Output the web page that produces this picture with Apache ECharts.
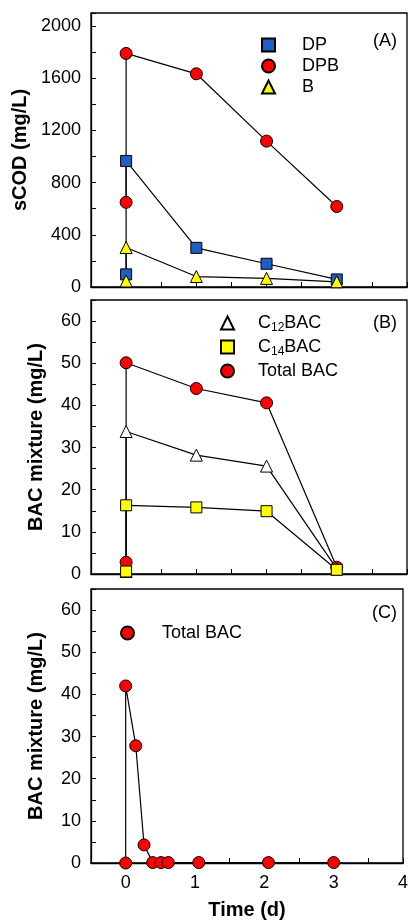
<!DOCTYPE html>
<html>
<head>
<meta charset="utf-8">
<script src="https://cdn.jsdelivr.net/npm/echarts@6/dist/echarts.min.js"></script>
<style>
html,body{margin:0;padding:0;background:#fff;}
#main{width:411px;height:921px;}
</style>
</head>
<body>
<div id="main"></div>
<script>
// panel A - sCOD
var dpData  = [[0,97],[0,966],[1,300],[2,178],[3,58]];
var dpbData = [[0,649],[0,1790],[1,1634],[2,1118],[3,617]];
var bData   = [[0,46],[0,303],[1,80],[2,66],[3,40]];

// panel B - BAC mixture
var c12Data   = [[0,0.6],[0,33.8],[1,28.2],[2,25.6],[3,1.2]];
var c14Data   = [[0,0.6],[0,16.3],[1,15.8],[2,14.9],[3,1.0]];
var totalBData = [[0,2.8],[0,50.1],[1,44.0],[2,40.6],[3,1.6]];

// panel C - total BAC
var totalCData = [[0,0],[0,42.0],[0.146,27.8],[0.265,4.3],[0.39,0.1],[0.51,0.1],[0.615,0.1],[1.055,0.1],[2.06,0.1],[3,0.1]];

var xTicks = [0,1,2,3,4];
var font = 'Liberation Sans, Arial, sans-serif';

var myChart = echarts.init(document.getElementById('main'));

function makeX(idx, showLabel){
	return {
		type:'value', gridIndex:idx, min:-0.5, max:4, interval:0.5,
		axisLine:{onZero:false, lineStyle:{color:'#000', width:1.3}},
		axisTick:{show:true, inside:true, length:5, lineStyle:{color:'#000'}},
		splitLine:{show:false},
		axisLabel:{show:showLabel, color:'#000', fontSize:18, fontFamily:font, margin:11,
			formatter:function(v){ return xTicks.indexOf(v)>=0 ? String(v) : ''; }},
		name: showLabel ? 'Time (d)' : '',
		nameLocation:'middle', nameGap:37, nameMoveOverlap:false,
		nameTextStyle:{color:'#000', fontSize:20, fontWeight:'bold', fontFamily:font}
	};
}
function makeY(idx, max, interval, labelStep, name, gap){
	var top = Math.floor(max/labelStep)*labelStep;
	return {
		type:'value', gridIndex:idx, min:0, max:max, interval:interval,
		axisLine:{show:true, onZero:false, lineStyle:{color:'#000', width:1.3}},
		axisTick:{show:true, inside:true, length:5, lineStyle:{color:'#000'}},
		splitLine:{show:false},
		axisLabel:{color:'#000', fontSize:18, fontFamily:font, margin:10,
			formatter:function(v){ return (v%labelStep==0 && v<=top) ? String(v) : ''; }},
		name:name, nameLocation:'middle', nameGap:gap, nameMoveOverlap:false,
		nameTextStyle:{color:'#000', fontSize:20, fontWeight:'bold', fontFamily:font}
	};
}
function lineSeries(name, data, idx, symbol, size, color){
	return {
		name:name, type:'line', data:data, xAxisIndex:idx, yAxisIndex:idx,
		symbol:symbol, symbolSize:size, showAllSymbol:true,
		lineStyle:{color:'#000', width:1.2},
		itemStyle:{color:color, borderColor:'#000', borderWidth:1},
		emphasis:{disabled:true}, animation:false, z:3
	};
}

var subRich = {
	n:{fontSize:18, fontFamily:font, color:'#000'},
	s:{fontSize:12, fontFamily:font, color:'#000', verticalAlign:'bottom', padding:[10,0,0,0]}
};

option = {
	animation:false,
	grid:[
		{left:91, right:4, top:13, height:274, show:true, borderColor:'#000', borderWidth:1.3},
		{left:91, right:4, top:300, height:274, show:true, borderColor:'#000', borderWidth:1.3},
		{left:91, right:4, top:589, height:274, show:true, borderColor:'#000', borderWidth:1.3}
	],
	xAxis:[makeX(0,false), makeX(1,false), makeX(2,true)],
	yAxis:[
		makeY(0, 2100, 200, 400, 'sCOD (mg/L)', 61),
		makeY(1, 65, 5, 10, 'BAC mixture (mg/L)', 45),
		makeY(2, 65, 5, 10, 'BAC mixture (mg/L)', 45)
	],
	legend:[
		{
			left:256, top:31, orient:'vertical', itemWidth:13, itemHeight:13, itemGap:3,
			selectedMode:false,
			textStyle:{fontSize:18, fontFamily:font, color:'#000', padding:[0,0,0,22]},
			data:[{name:'DP', icon:'rect'},{name:'DPB', icon:'circle'},{name:'B', icon:'triangle'}]
		},
		{
			left:215, top:309, orient:'vertical', itemWidth:13, itemHeight:13, itemGap:4,
			selectedMode:false,
			textStyle:{fontSize:18, fontFamily:font, color:'#000', padding:[0,0,0,19], rich:subRich},
			formatter:function(n){
				if(n=='C12BAC') return '{n|C}{s|12}{n|BAC}';
				if(n=='C14BAC') return '{n|C}{s|14}{n|BAC}';
				return '{n|'+n+'}';
			},
			data:[{name:'C12BAC', icon:'triangle'},{name:'C14BAC', icon:'rect'},{name:'Total BAC', icon:'circle'}]
		},
		{
			left:115, top:619, orient:'vertical', itemWidth:13, itemHeight:13,
			selectedMode:false,
			textStyle:{fontSize:18, fontFamily:font, color:'#000', padding:[0,0,0,23]},
			data:[{name:'Total BAC', icon:'circle'}]
		}
	],
	graphic:[
		{type:'text', right:14, top:32, style:{text:'(A)', fontSize:18, fontFamily:font, fill:'#000'}},
		{type:'text', right:14, top:314, style:{text:'(B)', fontSize:18, fontFamily:font, fill:'#000'}},
		{type:'text', right:14, top:604, style:{text:'(C)', fontSize:18, fontFamily:font, fill:'#000'}}
	],
	series:[
		lineSeries('DPB', dpbData, 0, 'circle', 12, '#ff0000'),
		lineSeries('DP', dpData, 0, 'rect', 11, '#1f5fc4'),
		lineSeries('B', bData, 0, 'triangle', 12, '#ffff00'),
		lineSeries('Total BAC', totalBData, 1, 'circle', 12, '#ff0000'),
		lineSeries('C12BAC', c12Data, 1, 'triangle', 12, '#ffffff'),
		lineSeries('C14BAC', c14Data, 1, 'rect', 11, '#ffff00'),
		lineSeries('Total BAC', totalCData, 2, 'circle', 12, '#ff0000')
	]
};
myChart.setOption(option);
</script>
</body>
</html>
